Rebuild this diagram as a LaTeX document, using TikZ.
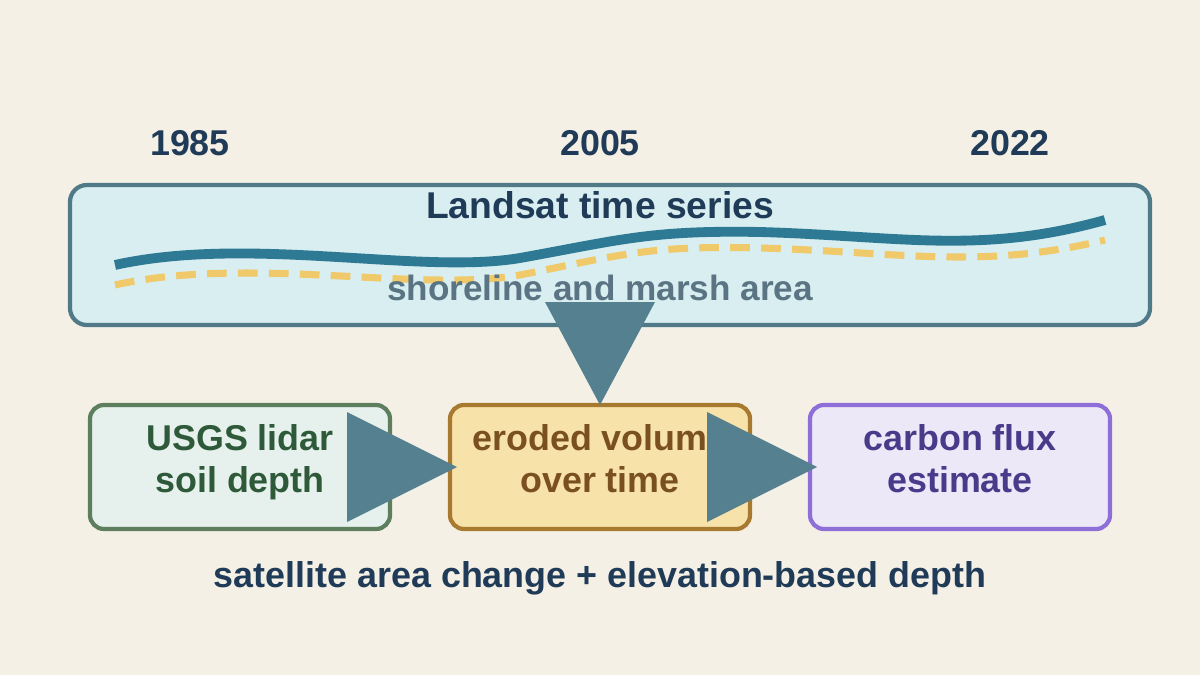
\documentclass[tikz,border=0pt]{standalone}
\usepackage{fontspec}
\setmainfont{Liberation Sans}
\usetikzlibrary{positioning}
\definecolor{bgcream}{HTML}{F5F0E6}
\definecolor{navy}{HTML}{1F3B57}
\definecolor{teal}{HTML}{2E7A94}
\definecolor{sand}{HTML}{F0C96A}
\definecolor{slate}{HTML}{55808F}
\definecolor{greytxt}{HTML}{5A7484}
\tikzset{
  year/.style={font=\fontsize{25.5}{30}\selectfont\bfseries, text=navy},
  stage/.style={rounded corners=10pt, line width=3pt, minimum width=7.5cm, minimum height=3.1cm,
    align=center, font=\fontsize{25.5}{30}\selectfont\bfseries},
  tri/.style={fill=slate, draw=none}
}
\begin{document}
\begin{tikzpicture}[x=0.025cm,y=-0.025cm]
\fill[bgcream] (0,0) rectangle (1200,675);
\node[year] (y1) at (190,143) {1985};
\node[year] (y2) at (600,143) {2005};
\node[year] (y3) at (1010,143) {2022};

\draw[rounded corners=12pt, line width=3pt, draw=slate!95!black, fill={rgb,255:red,216;green,238;blue,240}] (70,185) rectangle (1150,325);
\node[font=\fontsize{26.5}{30}\selectfont\bfseries, text=navy] (ls) at (600,205) {Landsat time series};
\draw[teal, line width=7pt] (115,265) .. controls (250,235) and (420,275) .. (520,258)
  .. controls (620,240) and (650,230) .. (760,232) .. controls (900,236) and (980,255) .. (1105,220);
\draw[sand, line width=5pt, dash pattern=on 14pt off 8pt] (115,285) .. controls (250,255) and (420,293) .. (520,275)
  .. controls (620,255) and (650,245) .. (760,248) .. controls (900,252) and (980,270) .. (1105,240);
\node[font=\fontsize{25}{30}\selectfont\bfseries, text=greytxt] (sm) at (600,288) {shoreline and marsh area};

\node[stage, draw={rgb,255:red,94;green,127;blue,94}, fill={rgb,255:red,230;green,240;blue,236},
  text={rgb,255:red,46;green,90;blue,58}] (lidar) at (240,467) {USGS lidar\\soil depth\\[-18pt]};
\node[stage, draw={rgb,255:red,168;green,122;blue,48}, fill={rgb,255:red,247;green,226;blue,170},
  text={rgb,255:red,122;green,80;blue,32}] (vol) at (600,467) {eroded volume\\over time\\[-18pt]};
\node[stage, draw={rgb,255:red,142;green,111;blue,216}, fill={rgb,255:red,236;green,232;blue,248},
  text={rgb,255:red,74;green,58;blue,138}] (flux) at (960,467) {carbon flux\\estimate\\[-18pt]};

%% arrows
\fill[tri] (545,302) -- (655,302) -- (600,405) -- cycle;
\fill[tri] (347,412) -- (347,522) -- (457,467) -- cycle;
\fill[tri] (707,412) -- (707,522) -- (817,467) -- cycle;

\node[font=\fontsize{25.5}{30}\selectfont\bfseries, text=navy] (cap) at (600,578) {satellite area change + elevation-based depth};
\end{tikzpicture}
\end{document}
